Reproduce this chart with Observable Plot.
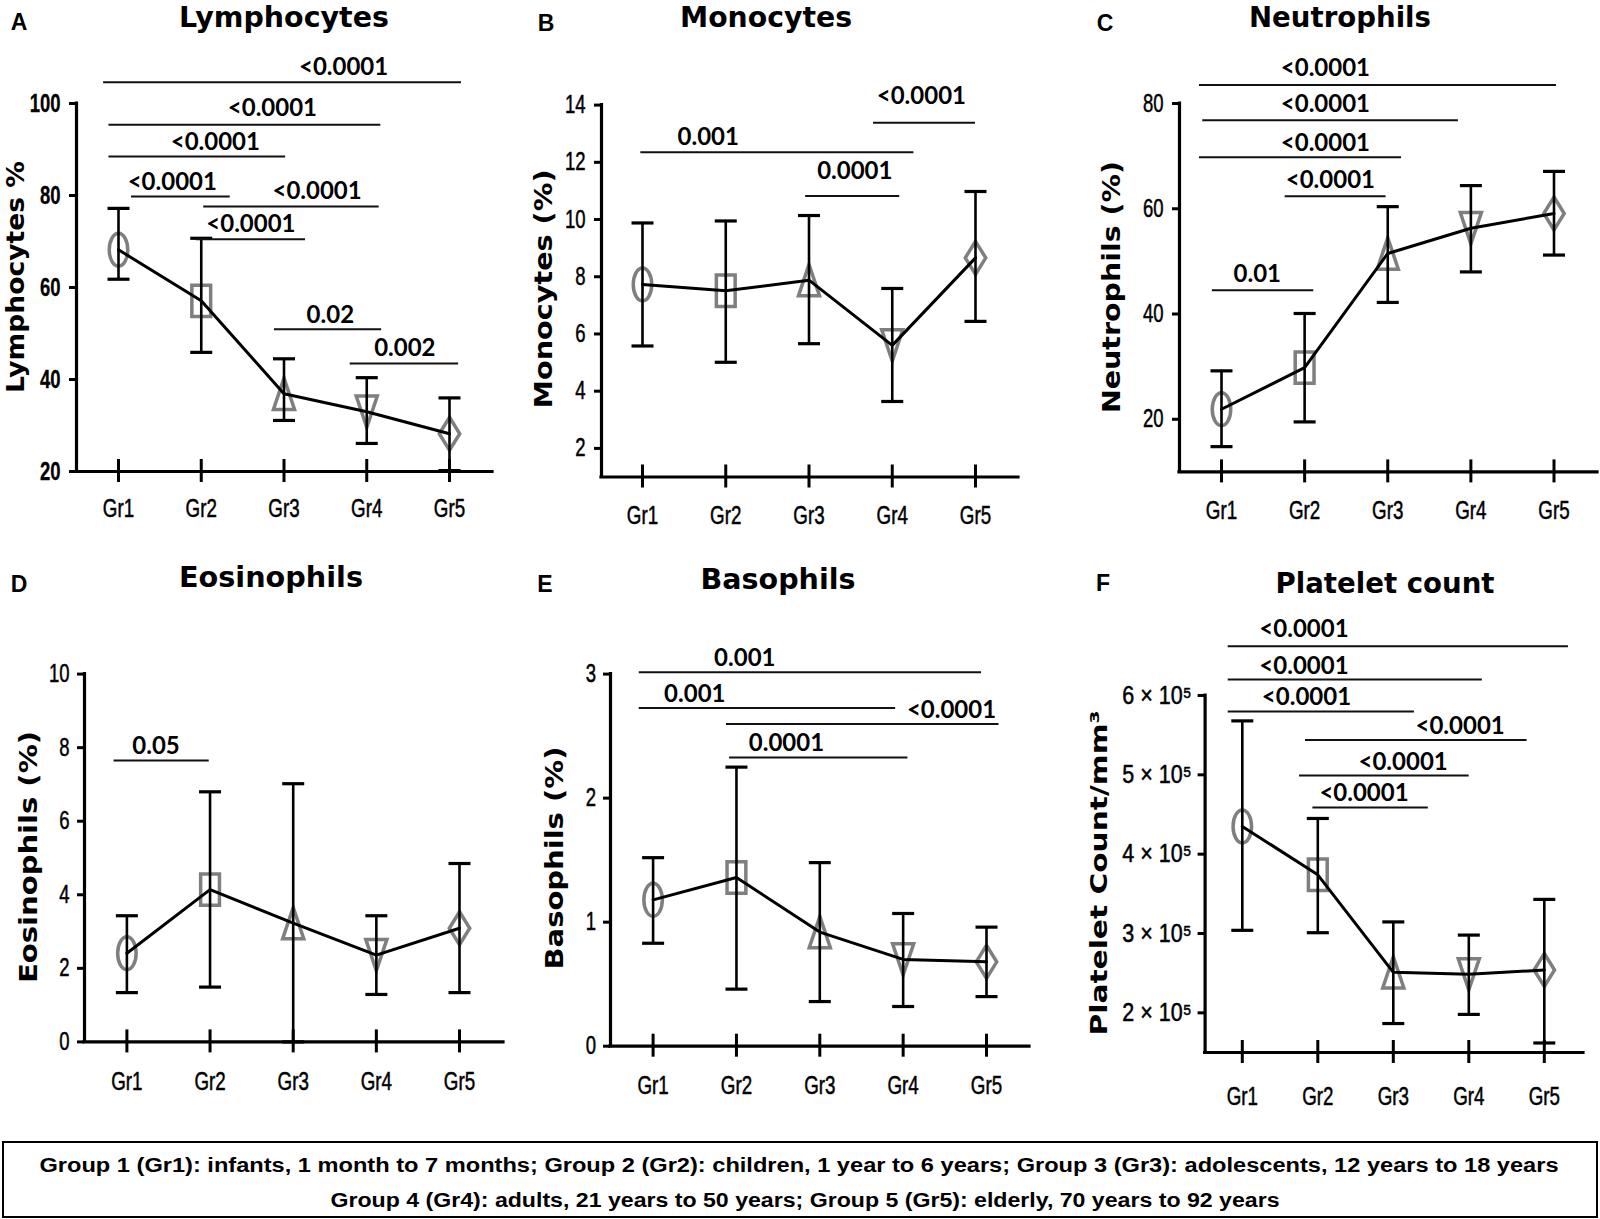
<!DOCTYPE html>
<html><head><meta charset="utf-8">
<script src="https://cdn.jsdelivr.net/npm/d3@7"></script>
<script src="https://cdn.jsdelivr.net/npm/@observablehq/plot@0.6"></script>
<style>
html,body{margin:0;padding:0;background:#fff;}
#page{position:relative;width:1600px;height:1219px;overflow:hidden;background:#fff;}
.lbl{position:absolute;white-space:nowrap;line-height:1;color:#000;}
.panel{position:absolute;}
.panel svg{overflow:visible;max-width:none;}
#cap{position:absolute;left:2px;top:1141px;width:1596px;height:77px;box-sizing:border-box;border:2px solid #000;}
</style></head><body><div id="page"><div id="cap"></div></div>
<script>
// ---------------- DATA ----------------
const groups = [1, 2, 3, 4, 5];
const groupLabels = ["Gr1", "Gr2", "Gr3", "Gr4", "Gr5"];
const panelLetters = ["A", "B", "C", "D", "E", "F"];
const panelTitles = ["Lymphocytes", "Monocytes", "Neutrophils", "Eosinophils", "Basophils", "Platelet count"];
const yLabels = ["Lymphocytes %", "Monocytes (%)", "Neutrophils (%)", "Eosinophils (%)", "Basophils (%)", "Platelet Count/mm\u00B3"];
const captionLines = [
  "Group 1 (Gr1): infants, 1 month to 7 months; Group 2 (Gr2): children, 1 year to 6 years; Group 3 (Gr3): adolescents, 12 years to 18 years",
  "Group 4 (Gr4): adults, 21 years to 50 years; Group 5 (Gr5): elderly, 70 years to 92 years"
];

// Lymphocytes (%)
const lymphMean = [68.2, 57.1, 36.9, 33.0, 28.2];
const lymphLow  = [61.8, 45.9, 31.1, 26.1, 20.2];
const lymphHigh = [77.2, 70.7, 44.5, 40.4, 36.0];
const lymphTicks = [20, 40, 60, 80, 100];
const lymphSig = [
  {from: 0.82,  to: 5.145, y: 104.6, labelX: 3.72, labelY: 106.1, p: "<0.0001"},
  {from: 0.885, to: 4.17,  y: 95.4,  labelX: 2.86, labelY: 97.2,  p: "<0.0001"},
  {from: 0.885, to: 3.02,  y: 88.5,  labelX: 2.17, labelY: 89.8,  p: "<0.0001"},
  {from: 1.157, to: 2.35,  y: 79.8,  labelX: 1.65, labelY: 81.3,  p: "<0.0001"},
  {from: 2.03,  to: 4.15,  y: 77.6,  labelX: 3.40, labelY: 79.3,  p: "<0.0001"},
  {from: 1.94,  to: 3.26,  y: 70.5,  labelX: 2.60, labelY: 72.0,  p: "<0.0001"},
  {from: 2.885, to: 4.18,  y: 50.9,  labelX: 3.56, labelY: 52.2,  p: "0.02"},
  {from: 3.80,  to: 5.11,  y: 43.5,  labelX: 4.46, labelY: 45.2,  p: "0.002"}
];

// Monocytes (%)
const monoMean = [7.73, 7.51, 7.88, 5.60, 8.66];
const monoLow  = [5.58, 5.01, 5.66, 3.64, 6.44];
const monoHigh = [9.88, 9.95, 10.14, 7.59, 10.98];
const monoTicks = [2, 4, 6, 8, 10, 12, 14];
const monoSig = [
  {from: 3.775, to: 5.0,  y: 13.38, labelX: 4.35, labelY: 14.04, p: "<0.0001"},
  {from: 0.98,  to: 4.26, y: 12.35, labelX: 1.79, labelY: 12.6,  p: "0.001"},
  {from: 2.96,  to: 4.09, y: 10.82, labelX: 3.55, labelY: 11.42, p: "0.0001"}
];

// Neutrophils (%)
const neutMean = [21.9, 29.8, 51.5, 56.3, 59.1];
const neutLow  = [14.8, 19.5, 42.2, 48.0, 51.2];
const neutHigh = [29.2, 40.1, 60.4, 64.4, 67.1];
const neutTicks = [20, 40, 60, 80];
const neutSig = [
  {from: 0.735, to: 5.03,  y: 83.5, labelX: 2.25, labelY: 85.3,  p: "<0.0001"},
  {from: 0.774, to: 3.85,  y: 76.8, labelX: 2.25, labelY: 78.3,  p: "<0.0001"},
  {from: 0.735, to: 3.166, y: 69.8, labelX: 2.25, labelY: 71.05, p: "<0.0001"},
  {from: 1.766, to: 2.98,  y: 62.4, labelX: 2.31, labelY: 63.9,  p: "<0.0001"},
  {from: 0.89,  to: 2.11,  y: 44.5, labelX: 1.43, labelY: 46.0,  p: "0.01"}
];

// Eosinophils (%)
const eosMean = [2.41, 4.14, 3.23, 2.36, 3.09];
const eosLow  = [1.34, 1.49, 0.0, 1.29, 1.34];
const eosHigh = [3.43, 6.80, 7.02, 3.43, 4.85];
const eosTicks = [0, 2, 4, 6, 8, 10];
const eosSig = [
  {from: 0.846, to: 1.99, y: 7.65, labelX: 1.35, labelY: 7.84, p: "0.05"}
];

// Basophils (%)
const basoMean = [1.18, 1.36, 0.92, 0.70, 0.68];
const basoLow  = [0.83, 0.46, 0.36, 0.32, 0.40];
const basoHigh = [1.52, 2.25, 1.48, 1.07, 0.96];
const basoTicks = [0, 1, 2, 3];
const basoSig = [
  {from: 0.834, to: 4.94,  y: 3.015, labelX: 2.10, labelY: 3.066, p: "0.001"},
  {from: 0.834, to: 3.91,  y: 2.727, labelX: 1.50, labelY: 2.779, p: "0.001"},
  {from: 1.88,  to: 5.15,  y: 2.597, labelX: 4.58, labelY: 2.65,  p: "<0.0001"},
  {from: 1.917, to: 4.057, y: 2.328, labelX: 2.60, labelY: 2.376, p: "0.0001"}
];

// Platelet count / mm3
const pltMean = [435000, 374000, 251000, 248500, 254000];
const pltLow  = [304000, 301000, 186500, 198000, 162000];
const pltHigh = [568000, 445000, 314600, 298000, 343000];
const pltTicks = [200000, 300000, 400000, 500000, 600000];
const pltSig = [
  {from: 0.813, to: 5.32,  y: 662200, labelX: 1.817, labelY: 673400, p: "<0.0001"},
  {from: 0.813, to: 4.179, y: 620200, labelX: 1.817, labelY: 627000, p: "<0.0001"},
  {from: 0.813, to: 3.28,  y: 579900, labelX: 1.85,  labelY: 587900, p: "<0.0001"},
  {from: 1.837, to: 4.772, y: 543800, labelX: 3.885, labelY: 552100, p: "<0.0001"},
  {from: 1.758, to: 4.005, y: 499200, labelX: 3.13,  labelY: 506700, p: "<0.0001"},
  {from: 1.935, to: 3.464, y: 458800, labelX: 2.612, labelY: 466400, p: "<0.0001"}
];

// ---------------- LAYOUT (pixels) ----------------
const layout = [
  {box: {x: 0,    y: 40,  w: 530, h: 520}, axisX: 76,     g1: 118,    g5: 449,    xEnd: 492,  yTop: 103,   yBottom: 471,    yPad: 9,   xPad: 27.5, yBold: true},
  {box: {x: 530,  y: 40,  w: 530, h: 520}, axisX: 601,    g1: 642,    g5: 975,    xEnd: 1018, yTop: 104.6, yBottom: 476.5,  yPad: 9,   xPad: 29.5},
  {box: {x: 1060, y: 40,  w: 540, h: 520}, axisX: 1179,   g1: 1221,   g5: 1553.5, xEnd: 1597, yTop: 103,   yBottom: 471.4,  yPad: 9,   xPad: 29.5},
  {box: {x: 0,    y: 600, w: 530, h: 510}, axisX: 84,     g1: 126.4,  g5: 459,    xEnd: 503,  yTop: 673.6, yBottom: 1041.4, yPad: 8,   xPad: 30},
  {box: {x: 530,  y: 600, w: 530, h: 510}, axisX: 610,    g1: 652.6,  g5: 986,    xEnd: 1029, yTop: 673.6, yBottom: 1045.7, yPad: 7.5, xPad: 30},
  {box: {x: 1060, y: 600, w: 540, h: 510}, axisX: 1204.6, g1: 1241.8, g5: 1543.8, xEnd: 1583, yTop: 695,   yBottom: 1052,   yPad: 6.5, xPad: 35, yFit: 0.86}
];
const titlePos  = [[284, 17, 210], [766, 17, 172], [1340, 17, 182], [271, 577, 184], [778, 579, 155], [1384.5, 583, 219]];
const letterPos = [[19, 22], [546, 23], [1105, 23], [19, 584], [545, 584], [1103, 583]];
const yLabelPos = [[16, 277, 232], [544, 289, 239], [1112, 287, 252], [28.5, 857, 252], [555, 858, 223], [1099, 872.5, 325]];

// ---------------- SYMBOLS ----------------
const R = (s) => Math.sqrt(s / Math.PI);
const ellipseSym = {draw(c, s) { const ry = R(s), rx = ry * 0.56, k = 0.5523;
  c.moveTo(rx, 0); c.bezierCurveTo(rx, k * ry, k * rx, ry, 0, ry); c.bezierCurveTo(-k * rx, ry, -rx, k * ry, -rx, 0);
  c.bezierCurveTo(-rx, -k * ry, -k * rx, -ry, 0, -ry); c.bezierCurveTo(k * rx, -ry, rx, -k * ry, rx, 0); c.closePath(); }};
const rectSym = {draw(c, s) { const r = R(s), rx = r * 0.57, ry = r * 0.95;
  c.moveTo(-rx, -ry); c.lineTo(rx, -ry); c.lineTo(rx, ry); c.lineTo(-rx, ry); c.closePath(); }};
const triUpSym = {draw(c, s) { const r = R(s), rx = r * 0.64, ry = r * 0.95;
  c.moveTo(0, -ry); c.lineTo(rx, ry); c.lineTo(-rx, ry); c.closePath(); }};
const triDownSym = {draw(c, s) { const r = R(s), rx = r * 0.64, ry = r * 0.95;
  c.moveTo(0, ry); c.lineTo(rx, -ry); c.lineTo(-rx, -ry); c.closePath(); }};
const diamondSym = {draw(c, s) { const r = R(s), rx = r * 0.62, ry = r;
  c.moveTo(0, -ry); c.lineTo(rx, 0); c.lineTo(0, ry); c.lineTo(-rx, 0); c.closePath(); }};
const capSym = {draw(c, s) { const r = R(s); c.moveTo(-r, 0); c.lineTo(r, 0); }};
const groupSymbols = [ellipseSym, rectSym, triUpSym, triDownSym, diamondSym];

const page = document.getElementById("page");

function fitText(t, k) {
  const L = t.getComputedTextLength();
  if (L > 0) { t.setAttribute("textLength", (L * k).toFixed(2)); t.setAttribute("lengthAdjust", "spacingAndGlyphs"); }
}

function draw(i, mean, low, high, yTicks, yMin, sig, yTickFormat) {
  const L = layout[i];
  const sp = (L.g5 - L.g1) / 4;
  const xLo = 1 - (L.g1 - L.axisX) / sp;
  const xHi = 5 + (L.xEnd - L.g5) / sp;
  const yMax = yTicks[yTicks.length - 1];
  const data = groups.map((g, j) => ({g, mean: mean[j], lo: low[j], hi: high[j]}));
  const chart = Plot.plot({
    width: L.box.w, height: L.box.h,
    marginLeft: L.axisX - L.box.x, marginRight: L.box.x + L.box.w - L.xEnd,
    marginTop: L.yTop - L.box.y, marginBottom: L.box.y + L.box.h - L.yBottom,
    x: {domain: [xLo, xHi]},
    y: {domain: [yMin, yMax]},
    style: {background: "transparent", overflow: "visible", fontFamily: "'Liberation Sans', Arial, sans-serif", color: "#000"},
    marks: [
      Plot.ruleY([yMin], {x1: xLo, x2: xHi, stroke: "#000", strokeWidth: 3.2, strokeLinecap: "square"}),
      Plot.ruleX([xLo], {y1: yMin, y2: yMax, stroke: "#000", strokeWidth: 3.2, strokeLinecap: "square"}),
      Plot.axisY({ticks: yTicks, tickFormat: yTickFormat || (d => String(d)), tickSize: 7, tickPadding: L.yPad, strokeWidth: 3, label: null,
        fontSize: 25, fontWeight: L.yBold ? "bold" : "normal", textStroke: "#000", textStrokeWidth: L.yBold ? 0.3 : 0.5}),
      Plot.axisX({ticks: groups, tickSize: 23, dy: -12, fill: "none", label: null, strokeWidth: 3}),
      Plot.axisX({ticks: groups, tickFormat: d => groupLabels[d - 1], tickSize: 0, tickPadding: L.xPad, label: null, fontSize: 25,
        textStroke: "#000", textStrokeWidth: 0.5}),
      ...groupSymbols.map((s, j) => Plot.dot([data[j]], {x: "g", y: "mean", symbol: s, r: 16.5, fill: "none", stroke: "#7f7f7f", strokeWidth: 3.5})),
      Plot.ruleX(data, {x: "g", y1: "lo", y2: "hi", stroke: "#000", strokeWidth: 2.6}),
      Plot.dot(data, {x: "g", y: "hi", symbol: capSym, r: 11, stroke: "#000", strokeWidth: 3.2}),
      Plot.dot(data, {x: "g", y: "lo", symbol: capSym, r: 11, stroke: "#000", strokeWidth: 3.2}),
      Plot.line(data, {x: "g", y: "mean", stroke: "#000", strokeWidth: 3}),
      Plot.ruleY(sig, {y: "y", x1: "from", x2: "to", stroke: "#111", strokeWidth: 2}),
      Plot.text(sig, {x: "labelX", y: "labelY", text: "p", lineAnchor: "bottom", fill: "#000",
        fontFamily: "Lato, 'DejaVu Sans', sans-serif", fontWeight: "bold", fontSize: 24})
    ]
  });
  const div = document.createElement("div");
  div.className = "panel";
  div.style.left = L.box.x + "px"; div.style.top = L.box.y + "px";
  div.style.width = L.box.w + "px"; div.style.height = L.box.h + "px";
  div.appendChild(chart);
  page.appendChild(div);
  chart.querySelectorAll('[aria-label="x-axis tick label"] text').forEach(t => fitText(t, 0.75));
  chart.querySelectorAll('[aria-label="y-axis tick label"] text').forEach(t => fitText(t, L.yFit || 0.74));
}

draw(0, lymphMean, lymphLow, lymphHigh, lymphTicks, 20, lymphSig);
draw(1, monoMean, monoLow, monoHigh, monoTicks, 1, monoSig);
draw(2, neutMean, neutLow, neutHigh, neutTicks, 10, neutSig);
draw(3, eosMean, eosLow, eosHigh, eosTicks, 0, eosSig);
draw(4, basoMean, basoLow, basoHigh, basoTicks, 0, basoSig);
draw(5, pltMean, pltLow, pltHigh, pltTicks, 150000, pltSig, d => `${d / 1e5} \u00D7 10\u2075`);

// ---------------- HTML TEXT ----------------
function addLabel(text, x, y, font, size, weight, width, rotate) {
  const el = document.createElement("div");
  el.className = "lbl";
  el.textContent = text;
  el.style.font = `${weight} ${size}px ${font}`;
  el.style.left = x + "px"; el.style.top = y + "px";
  page.appendChild(el);
  const natural = el.getBoundingClientRect().width;
  const k = width ? width / natural : 1;
  el.style.transform = `translate(-50%,-50%)${rotate ? " rotate(-90deg)" : ""} scaleX(${k.toFixed(4)})`;
}
panelTitles.forEach((t, i) => addLabel(t, titlePos[i][0], titlePos[i][1], "'DejaVu Sans', Verdana, sans-serif", 28, "bold", titlePos[i][2], false));
panelLetters.forEach((t, i) => addLabel(t, letterPos[i][0], letterPos[i][1], "'Liberation Sans', Arial, sans-serif", 23, "bold", 0, false));
yLabels.forEach((t, i) => addLabel(t, yLabelPos[i][0], yLabelPos[i][1], "'DejaVu Sans', Verdana, sans-serif", i === 5 ? 23 : 24, "bold", yLabelPos[i][2], true));
addLabel(captionLines[0], 799, 1165, "'Liberation Sans', Arial, sans-serif", 20, "bold", 1519, false);
addLabel(captionLines[1], 805, 1200, "'Liberation Sans', Arial, sans-serif", 20, "bold", 949, false);
</script></body></html>
